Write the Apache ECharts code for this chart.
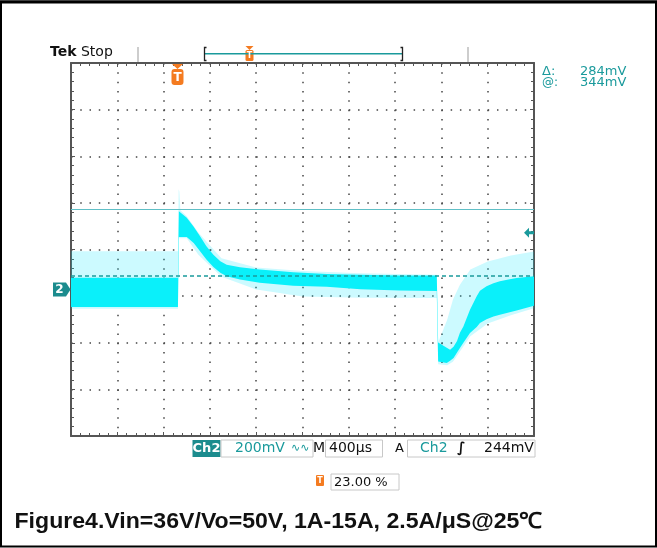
<!DOCTYPE html>
<html><head><meta charset="utf-8">
<script src="https://cdn.jsdelivr.net/npm/echarts@6/dist/echarts.min.js"></script>
<style>html,body{margin:0;padding:0;background:#fff;} #c{width:657px;height:548px;}</style>
</head><body><div id="c"></div>
<script>
// ---- scope settings ----
const TIME_PER_DIV = 400;      // µs / div
const VOLT_PER_DIV = 200;      // mV / div
const H_DIVS = 10, V_DIVS = 8;
const CH2_OFFSET = -172;       // mV: screen position of the Ch2 ground marker
const TRIGGER_POS = 920;       // µs (23.00 %)
const TRIGGER_LEVEL = 244;     // mV
const CURSOR_AT = 344;         // mV
const CURSOR_DELTA = 284;      // mV

// ---- Ch2 trace: dense envelope (mV relative to ground) ----
const coreTime   = [0, 924, 932, 1000, 1060, 1115, 1170, 1230, 1290, 1345, 1460, 1630, 1920, 2210, 2500, 2840, 3160, 3172, 3246, 3275, 3305, 3335, 3360, 3390, 3447, 3505, 3533, 3590, 3650, 3705, 3790, 3850, 4000];
const coreTop    = [51, 51, 336, 308, 270, 229, 186, 150, 122, 107, 96, 86, 74, 67, 64, 60, 60, -227, -249, -258, -245, -220, -185, -158, -86, -29, -5, 14, 27, 36, 44, 50, 57];
const coreBottom = [-75, -75, 226, 226, 200, 164, 129, 97, 72, 57, 43, 29, 17, 12, 2, -4, -6, -308, -315, -305, -293, -270, -250, -228, -186, -160, -143, -127, -115, -108, -97, -90, -69];

// ---- Ch2 trace: faint noise envelope (mV relative to ground) ----
const haloTime   = [0, 924, 930, 936, 945, 1000, 1100, 1300, 1600, 2000, 2500, 3160, 3172, 3250, 3300, 3360, 3450, 3600, 3800, 4000];
const haloTop    = [165, 165, 430, 420, 340, 315, 245, 135, 95, 80, 70, 64, -227, -129, -43, 21, 86, 120, 146, 163];
const haloBottom = [-82, -82, 220, 220, 220, 220, 150, 55, 0, -30, -35, -36, -320, -325, -310, -265, -200, -145, -110, -80];

const CYAN = '#0AF0FA';
const TEAL = '#1a9a9c';
const ORANGE = '#F47B20';

function bandSeries(times, top, bottom, fill, z) {
  return {
    type: 'custom', coordinateSystem: 'cartesian2d', data: [[0, 0]], z: z, clip: true,
    silent: true,
    renderItem: function (params, api) {
      const pts = [];
      for (let i = 0; i < times.length; i++) pts.push(api.coord([times[i], top[i] + CH2_OFFSET]));
      for (let i = times.length - 1; i >= 0; i--) pts.push(api.coord([times[i], bottom[i] + CH2_OFFSET]));
      return { type: 'polygon', shape: { points: pts }, style: { fill: fill, stroke: null } };
    }
  };
}

const GRID = { left: 71, top: 63, width: 463, height: 373 };
const dotH = [1.5, GRID.width / H_DIVS / 5 - 1.5];
const dotV = [1.5, GRID.height / V_DIVS / 5 - 1.5];

function xAx(pos, split) {
  return {
    type: 'value', position: pos, min: 0, max: TIME_PER_DIV * H_DIVS, interval: TIME_PER_DIV,
    axisLine: { show: true, onZero: false, lineStyle: { color: '#555', width: 2 } },
    axisTick: { show: true, inside: true, length: 4, lineStyle: { color: '#555' } },
    minorTick: { show: true, splitNumber: 5, length: 3, lineStyle: { color: '#555' } },
    axisLabel: { show: false },
    splitLine: { show: split, lineStyle: { color: '#444', width: 1.5, type: dotV } }
  };
}
function yAx(pos, split) {
  return {
    type: 'value', position: pos, min: -VOLT_PER_DIV * V_DIVS / 2, max: VOLT_PER_DIV * V_DIVS / 2, interval: VOLT_PER_DIV,
    axisLine: { show: true, onZero: false, lineStyle: { color: '#555', width: 2 } },
    axisTick: { show: true, inside: true, length: 4, lineStyle: { color: '#555' } },
    minorTick: { show: true, splitNumber: 5, length: 3, lineStyle: { color: '#555' } },
    axisLabel: { show: false },
    splitLine: { show: split, lineStyle: { color: '#444', width: 1.5, type: dotH } }
  };
}

const chart = echarts.init(document.getElementById('c'), null, { renderer: 'canvas' });
const option = {
  animation: false,
  backgroundColor: '#fff',
  grid: Object.assign({ containLabel: false, outerBoundsMode: 'none' }, GRID),
  xAxis: [xAx('bottom', true), xAx('top', false)],
  yAxis: [yAx('left', true), yAx('right', false)],
  series: [
    bandSeries(haloTime, haloTop, haloBottom, 'rgba(0,232,255,0.2)', 2),
    bandSeries(coreTime, coreTop, coreBottom, CYAN, 3),
    {
      type: 'line', data: [], z: 5, silent: true,
      markLine: {
        symbol: 'none', silent: true, animation: false,
        label: { show: false },
        data: [
          { yAxis: CURSOR_AT + CH2_OFFSET, lineStyle: { color: '#5fbfc6', width: 1.2, type: 'solid' } },
          { yAxis: CURSOR_AT - CURSOR_DELTA + CH2_OFFSET, lineStyle: { color: TEAL, width: 1.5, type: [4, 3] } }
        ]
      },
      markPoint: {
        silent: true, animation: false,
        data: [{
          coord: [3957, TRIGGER_LEVEL + CH2_OFFSET],
          symbol: 'path://M0,5 L6,0 L6,3.5 L12,3.5 L12,6.5 L6,6.5 L6,10 Z',
          symbolSize: [10, 10],
          itemStyle: { color: TEAL },
          label: { show: false }
        }]
      }
    }
  ]
};
chart.setOption(option);

const trigX = chart.convertToPixel({ gridIndex: 0 }, [TRIGGER_POS, 0])[0];
const gndY = chart.convertToPixel({ gridIndex: 0 }, [0, CH2_OFFSET])[1];

const txt = (x, y, s, o, extra) => Object.assign({
  type: 'text', x: x, y: y, silent: true, z: 40,
  style: Object.assign({ text: s, fill: '#000', font: '13px "DejaVu Sans"', align: 'left', verticalAlign: 'middle' }, o || {})
}, extra || {});
const rect = (x, y, w, h, o) => ({ type: 'rect', silent: true, z: 15, shape: { x: x, y: y, width: w, height: h, r: (o && o.r) || 0 }, style: Object.assign({ fill: 'none', stroke: '#c8c8c8', lineWidth: 1 }, o || {}) });

const graphics = [
  // outer frame
  { type: 'rect', silent: true, z: 30, shape: { x: 1, y: 1.5, width: 655, height: 545 }, style: { fill: 'none', stroke: '#000', lineWidth: 2 } },
  { type: 'line', silent: true, z: 30, shape: { x1: 0, y1: 2, x2: 657, y2: 2 }, style: { stroke: '#000', lineWidth: 3 } },
  // top status
  {
    type: 'text', x: 50, y: 52.7, silent: true, z: 40,
    style: { text: '{b|Tek} Stop', font: '14px "DejaVu Sans"', fill: '#111', verticalAlign: 'middle',
      rich: { b: { font: 'bold 14px "DejaVu Sans"', fill: '#111' } } }
  },
  { type: 'line', silent: true, z: 20, shape: { x1: 138, y1: 47, x2: 138, y2: 62 }, style: { stroke: '#bdbdbd', lineWidth: 1.5 } },
  { type: 'line', silent: true, z: 20, shape: { x1: 468, y1: 47, x2: 468, y2: 62 }, style: { stroke: '#bdbdbd', lineWidth: 1.5 } },
  { type: 'line', silent: true, z: 20, shape: { x1: 205, y1: 53.7, x2: 402, y2: 53.7 }, style: { stroke: TEAL, lineWidth: 1.5 } },
  { type: 'polyline', silent: true, z: 21, shape: { points: [[206.5, 47.5], [204.5, 47.5], [204.5, 60.5], [206.5, 60.5]] }, style: { stroke: '#222', lineWidth: 1.3, fill: 'none' } },
  { type: 'polyline', silent: true, z: 21, shape: { points: [[400.5, 47.5], [402.5, 47.5], [402.5, 60.5], [400.5, 60.5]] }, style: { stroke: '#222', lineWidth: 1.3, fill: 'none' } },
  { type: 'polygon', silent: true, z: 21, shape: { points: [[245.5, 46], [253.5, 46], [249.5, 50]] }, style: { fill: ORANGE } },
  rect(245.5, 50, 8, 11, { fill: ORANGE, stroke: null, r: 1.5 }),
  txt(249.5, 55.8, 'T', { fill: '#fff', font: 'bold 8px "DejaVu Sans"', align: 'center' }),
  // trigger position marker
  { type: 'polygon', silent: true, z: 21, shape: { points: [[trigX - 5.5, 64], [trigX + 5.5, 64], [trigX, 69]] }, style: { fill: ORANGE } },
  rect(trigX - 6, 69, 12, 16, { fill: ORANGE, stroke: null, r: 3 }),
  txt(trigX, 77.5, 'T', { fill: '#fff', font: 'bold 12px "DejaVu Sans"', align: 'center' }),
  // ch2 ground marker
  { type: 'polygon', silent: true, z: 21, shape: { points: [[53, gndY - 7], [66, gndY - 7], [70.5, gndY], [66, gndY + 7], [53, gndY + 7]] }, style: { fill: '#1c8c8e' } },
  txt(59.5, gndY + 0.5, '2', { fill: '#fff', font: 'bold 12px "DejaVu Sans"', align: 'center' }),
  // cursor readout
  txt(542, 71.2, 'Δ:', { fill: TEAL, font: '13px "DejaVu Sans"' }),
  txt(580, 71.2, CURSOR_DELTA + 'mV', { fill: TEAL, font: '13px "DejaVu Sans"' }),
  txt(542, 82.5, '@:', { fill: TEAL, font: '12px "DejaVu Sans"' }),
  txt(580, 82.5, CURSOR_AT + 'mV', { fill: TEAL, font: '13px "DejaVu Sans"' }),
  // bottom status bar
  rect(192.5, 440, 28, 17, { fill: '#1c8c8e', stroke: null }),
  txt(206.5, 448.5, 'Ch2', { fill: '#fff', font: 'bold 13px "DejaVu Sans"', align: 'center' }),
  rect(221, 440, 92, 17),
  txt(235, 448.5, VOLT_PER_DIV + 'mV', { fill: TEAL, font: '14px "DejaVu Sans"' }),
  txt(291, 448.5, '∿∿', { fill: TEAL, font: '11px "DejaVu Sans"' }),
  txt(313, 448.5, 'M', { fill: '#111', font: '14px "DejaVu Sans"' }),
  rect(325.5, 440, 57, 17),
  txt(329, 448.5, TIME_PER_DIV + 'µs', { fill: '#111', font: '14px "DejaVu Sans"' }),
  txt(395, 448.5, 'A', { fill: '#111', font: '13px "DejaVu Sans"' }),
  rect(407.5, 440, 127.5, 17),
  txt(420, 448.5, 'Ch2', { fill: TEAL, font: '14px "DejaVu Sans"' }),
  txt(457, 448.5, '∫', { fill: '#111', font: 'bold 14px "DejaVu Sans"' }),
  txt(484, 448.5, TRIGGER_LEVEL + 'mV', { fill: '#111', font: '14px "DejaVu Sans"' }),
  // trigger position readout
  rect(316, 475, 8, 11, { fill: ORANGE, stroke: null, r: 1 }),
  txt(320, 480.8, 'T', { fill: '#fff', font: 'bold 8px "DejaVu Sans"', align: 'center' }),
  rect(331, 474, 68, 16),
  txt(334, 482.3, (TRIGGER_POS / (TIME_PER_DIV * H_DIVS) * 100).toFixed(2) + ' %', { fill: '#111', font: '13px "DejaVu Sans"' }),
  // caption
  txt(14.5, 521.5, 'Figure4.Vin=36V/Vo=50V, 1A-15A, 2.5A/μS@25℃', { fill: '#111', font: 'bold 22px "Liberation Sans"' }, { scaleX: 1.05 })
];
chart.setOption({ graphic: graphics });
</script>
</body></html>
